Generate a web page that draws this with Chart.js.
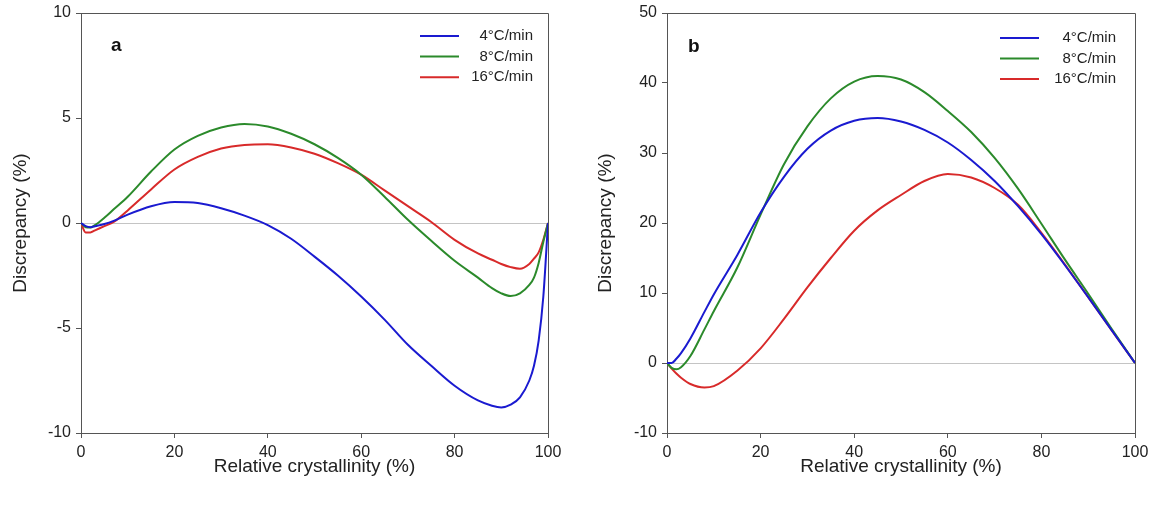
<!DOCTYPE html>
<html>
<head>
<meta charset="utf-8">
<script src="https://cdn.jsdelivr.net/npm/chart.js@4/dist/chart.umd.min.js"></script>
<style>
  html, body { margin: 0; padding: 0; background: #fff; }
  #wrap { position: relative; width: 1157px; height: 506px; }
  #pa { position: absolute; left: 0; top: 0; }
  #pb { position: absolute; left: 578px; top: 0; }
</style>
</head>
<body>
<div id="wrap">
  <canvas id="pa" width="578" height="506"></canvas>
  <canvas id="pb" width="579" height="506"></canvas>
</div>
<script>
// ---------- DATA ----------
const seriesLabels = ['4°C/min', '8°C/min', '16°C/min'];
const seriesColors = ['#1a1ad0', '#2b8a2b', '#d82a2a'];

// Panel a
const xA   = [0, 1, 2, 3, 5, 7, 10, 15, 20, 25, 30, 35, 40, 45, 50, 55, 60, 65, 70, 75, 80, 85, 88, 90, 92, 94, 96, 97, 98, 99, 100];
const a4   = [0, -0.15, -0.2, -0.15, -0.05, 0.1, 0.4, 0.8, 1.0, 0.95, 0.7, 0.35, -0.1, -0.75, -1.6, -2.5, -3.5, -4.6, -5.8, -6.8, -7.75, -8.45, -8.7, -8.78, -8.65, -8.3, -7.5, -6.8, -5.6, -3.5, 0];
const a8   = [0, -0.2, -0.22, -0.1, 0.25, 0.65, 1.25, 2.45, 3.5, 4.15, 4.55, 4.72, 4.6, 4.25, 3.75, 3.1, 2.3, 1.25, 0.15, -0.85, -1.8, -2.6, -3.1, -3.35, -3.48, -3.35, -2.95, -2.6, -1.9, -0.9, 0];
const a16  = [0, -0.45, -0.45, -0.35, -0.15, 0.05, 0.6, 1.6, 2.55, 3.15, 3.55, 3.72, 3.75, 3.6, 3.3, 2.85, 2.3, 1.55, 0.8, 0.05, -0.8, -1.45, -1.75, -1.95, -2.1, -2.18, -1.95, -1.7, -1.4, -0.8, 0];
const ticksA = { min: -10, max: 10, step: 5 };

// Panel b
const xB   = [0, 1, 2, 3, 5, 8, 10, 15, 20, 25, 30, 35, 40, 45, 50, 55, 60, 65, 70, 75, 80, 85, 90, 95, 100];
const b4   = [0, 0, 0.6, 1.4, 3.5, 7.3, 9.8, 15.4, 21.5, 26.6, 30.6, 33.2, 34.6, 35.0, 34.5, 33.3, 31.5, 29.0, 26.0, 22.4, 18.4, 14.0, 9.4, 4.7, 0];
const b8   = [0, -0.7, -0.9, -0.6, 1.0, 4.8, 7.4, 13.6, 21.2, 28.4, 33.8, 37.8, 40.2, 41.0, 40.5, 38.7, 36.0, 33.0, 29.3, 24.9, 19.9, 14.8, 9.9, 4.9, 0];
const b16  = [0, -0.8, -1.5, -2.1, -3.0, -3.5, -3.3, -1.1, 2.1, 6.3, 10.8, 15.0, 18.9, 21.8, 24.0, 26.0, 27.0, 26.5, 25.0, 22.6, 18.6, 14.1, 9.4, 4.7, 0];
const ticksB = { min: -10, max: 50, step: 10 };

const xTicks = { min: 0, max: 100, step: 20 };
const xTitle = 'Relative crystallinity (%)';
const yTitle = 'Discrepancy (%)';

// ---------- RENDERING ----------
const FONT = '"Liberation Sans", Arial, sans-serif';
const TXT = '#222';
const AXIS = '#555';

const decor = {
  id: 'decor',
  afterDraw(chart, args, o) {
    const { ctx, chartArea: ca } = chart;
    ctx.save();
    ctx.strokeStyle = AXIS;
    ctx.lineWidth = 1;
    ctx.beginPath();
    ctx.moveTo(ca.left, ca.top + 0.5);
    ctx.lineTo(ca.right + 0.5, ca.top + 0.5);
    ctx.lineTo(ca.right + 0.5, ca.bottom);
    ctx.stroke();
    ctx.fillStyle = '#111';
    ctx.font = 'bold 19px ' + FONT;
    ctx.textBaseline = 'middle';
    ctx.textAlign = 'left';
    ctx.fillText(o.letter, ca.left + o.letterX, ca.top + o.letterY);
    ctx.font = '15px ' + FONT;
    ctx.textAlign = 'right';
    chart.data.datasets.forEach((ds, i) => {
      const y = ca.top + o.legTop + i * o.legGap;
      ctx.strokeStyle = ds.borderColor;
      ctx.lineWidth = 2;
      ctx.beginPath();
      ctx.moveTo(ca.right - o.lineFrom, y);
      ctx.lineTo(ca.right - o.lineTo, y);
      ctx.stroke();
      ctx.fillStyle = TXT;
      ctx.fillText(ds.label, ca.right - o.textRight, y);
    });
    ctx.restore();
  }
};

function makeChart(id, xs, ys, yt, leftW, padRight, yTitlePad, deco) {
  return new Chart(document.getElementById(id), {
    type: 'line',
    data: {
      datasets: ys.map((arr, i) => ({
        label: seriesLabels[i],
        data: xs.map((x, j) => ({ x: x, y: arr[j] })),
        borderColor: seriesColors[i],
        borderWidth: 2,
        pointRadius: 0,
        fill: false,
        cubicInterpolationMode: 'monotone'
      }))
    },
    options: {
      responsive: false,
      animation: false,
      devicePixelRatio: 1,
      layout: { padding: { top: 13, right: padRight, bottom: 0, left: 0 } },
      plugins: { legend: { display: false }, tooltip: { enabled: false }, decor: deco },
      scales: {
        x: {
          type: 'linear', min: xTicks.min, max: xTicks.max,
          afterFit(s) { s.height = 73; s.paddingLeft = 0; s.paddingRight = 0; },
          ticks: { stepSize: xTicks.step, color: TXT, font: { family: FONT, size: 16 }, padding: 5, maxRotation: 0 },
          grid: { drawOnChartArea: false, drawTicks: true, tickLength: 5, tickColor: AXIS },
          border: { display: true, color: AXIS, width: 1 },
          title: { display: true, text: xTitle, color: TXT, font: { family: FONT, size: 19 }, padding: { top: 0, bottom: 28 } }
        },
        y: {
          type: 'linear', min: yt.min, max: yt.max,
          afterFit(s) { s.width = leftW; s.paddingTop = 0; s.paddingBottom = 0; },
          ticks: { stepSize: yt.step, color: TXT, font: { family: FONT, size: 16 }, padding: 5 },
          grid: {
            drawOnChartArea: true, drawTicks: true, tickLength: 5, tickColor: AXIS,
            color: c => (c.tick && c.tick.value === 0) ? '#c4c4c4' : 'rgba(0,0,0,0)'
          },
          border: { display: true, color: AXIS, width: 1 },
          title: { display: true, text: yTitle, color: TXT, font: { family: FONT, size: 19 }, padding: { top: yTitlePad, bottom: 0 } }
        }
      }
    },
    plugins: [decor]
  });
}

makeChart('pa', xA, [a4, a8, a16], ticksA, 81, 30, 9,
  { letter: 'a', letterX: 30, letterY: 33, legTop: 23, legGap: 20.6, lineFrom: 128, lineTo: 89, textRight: 15 });
makeChart('pb', xB, [b4, b8, b16], ticksB, 89, 22, 16,
  { letter: 'b', letterX: 21, letterY: 34, legTop: 25, legGap: 20.5, lineFrom: 135, lineTo: 96, textRight: 19 });
</script>
</body>
</html>
